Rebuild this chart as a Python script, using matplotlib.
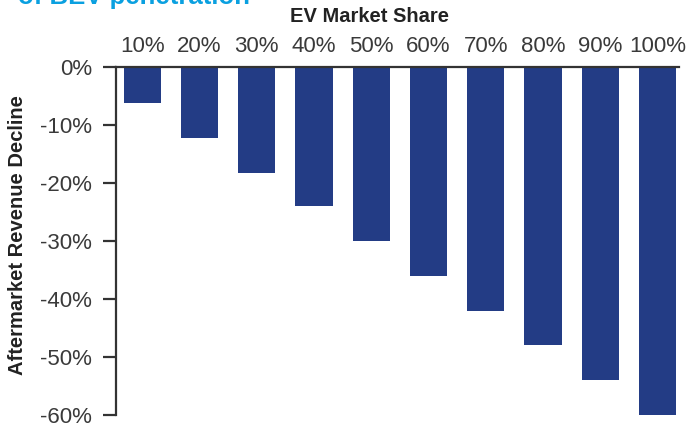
import numpy as np
import matplotlib.pyplot as plt
from matplotlib.ticker import FuncFormatter

plt.rcParams['font.family'] = ['Liberation Sans', 'DejaVu Sans']

shares = ['10%', '20%', '30%', '40%', '50%', '60%', '70%', '80%', '90%', '100%']
decline = [-6.2, -12.2, -18.2, -24, -30, -36, -42, -48, -54, -60]

fig = plt.figure(figsize=(6.86, 4.23), dpi=100)
ax = fig.add_axes([0.169, 0.019, 0.821, 0.8226])

x = np.arange(len(shares))
ax.bar(x, decline, width=0.65, color='#233C85')

ax.set_xlim(-0.46, 9.38)
ax.set_ylim(-60, 0)
ax.set_yticks(np.arange(-60, 1, 10))
ax.yaxis.set_major_formatter(FuncFormatter(lambda v, p: '%d%%' % v))
ax.tick_params(axis='y', labelsize=16, labelcolor='#3a3a3a', length=9.4,
               width=1.6, color='#333333', pad=8)

ax.xaxis.tick_top()
ax.set_xticks(x)
ax.set_xticklabels(shares)
ax.tick_params(axis='x', labelsize=16, labelcolor='#3a3a3a', length=0, pad=7)

for s in ['right', 'bottom']:
    ax.spines[s].set_visible(False)
ax.spines['left'].set_linewidth(1.6)
ax.spines['top'].set_linewidth(1.6)
ax.spines['left'].set_color('#333333')
ax.spines['top'].set_color('#333333')

fig.text(0.026, 0.444, 'Aftermarket Revenue Decline', rotation=90,
         ha='center', va='center', fontsize=14.5, fontweight='bold',
         color='#222222')
fig.text(0.538, 0.960, 'EV Market Share', ha='center', va='center',
         fontsize=14.5, fontweight='bold', color='#222222')
# title cut off at the top of the image
fig.text(18 / 686, 0.991, 'of BEV penetration', ha='left', va='baseline',
         fontsize=18.5, fontweight='bold', color='#0AA0E0')

fig.savefig('out.png', dpi=100)
